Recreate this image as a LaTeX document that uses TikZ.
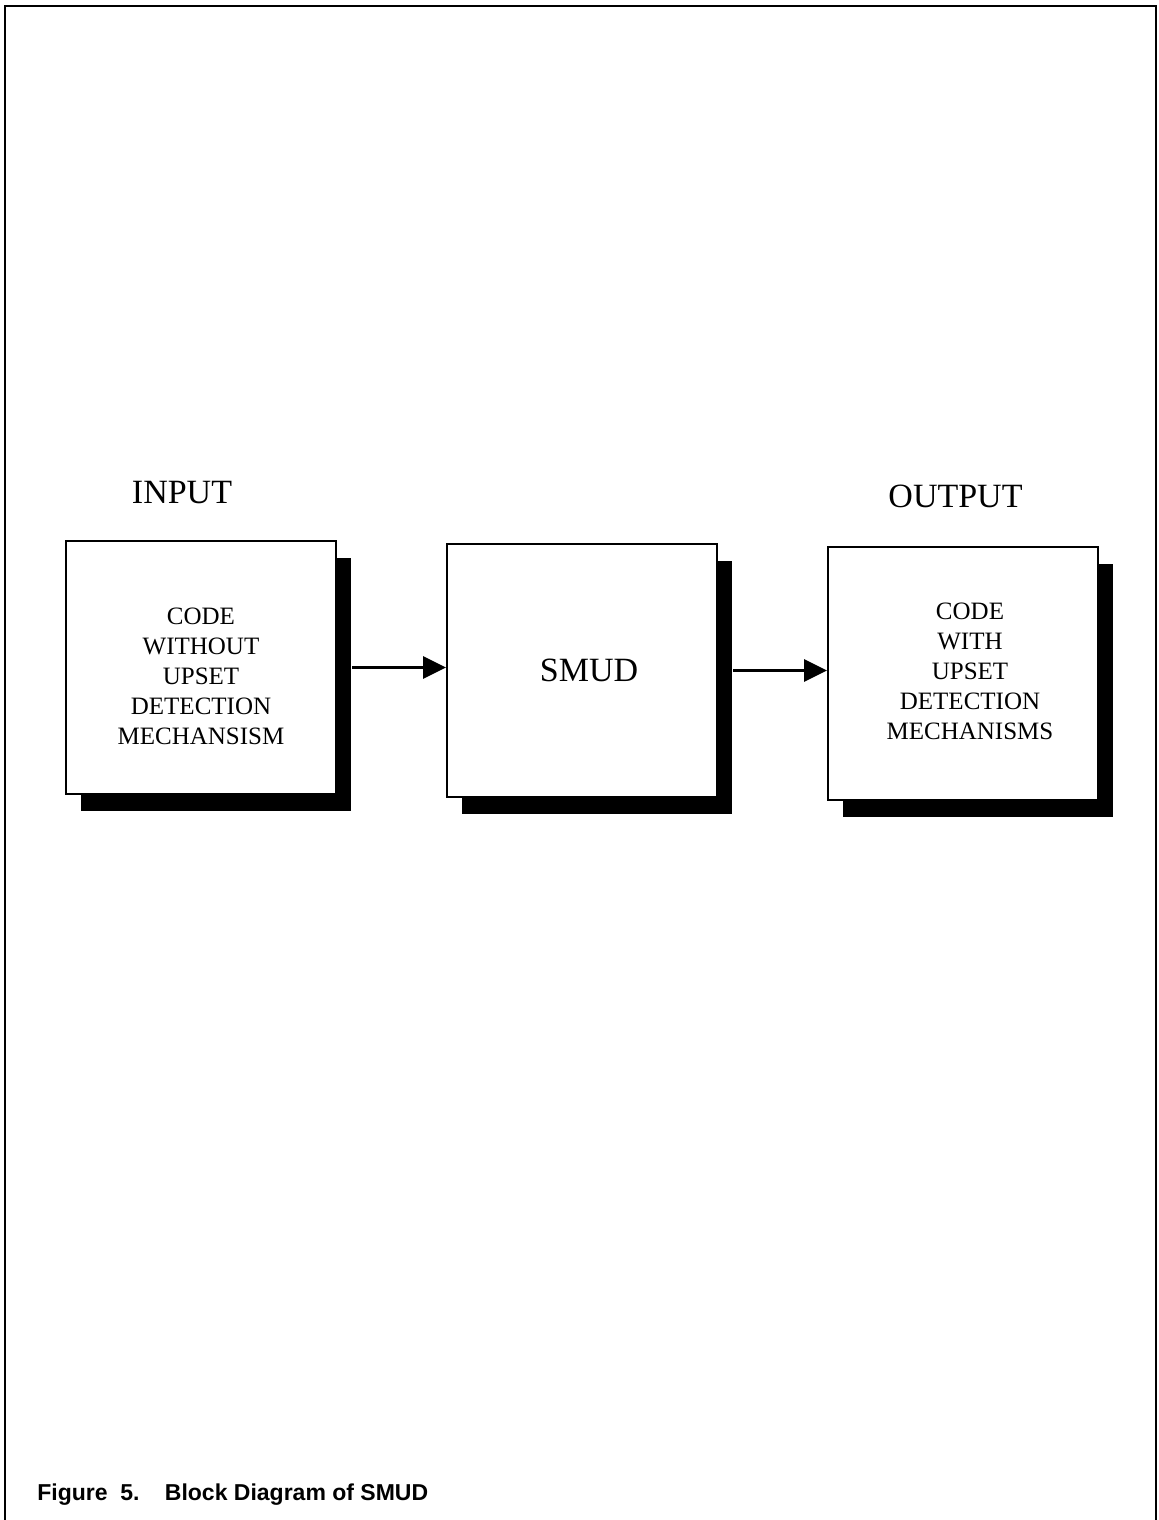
\documentclass[tikz,border=0pt]{standalone}
\usepackage{fontspec}
\setmainfont{Liberation Serif}
\setsansfont{Liberation Sans}
\usepackage{tikz}
\usetikzlibrary{arrows.meta, positioning, shadows}

\begin{document}
\begin{tikzpicture}[x=0.5pt, y=-0.5pt,
  %% --- Node styles ---
  block/.style={
    rectangle, draw=black, fill=white, line width=1pt,
    minimum width=135pt, minimum height=126.5pt,
    align=center, font=\fontsize{12.5}{15}\selectfont,
    drop shadow={shadow xshift=7.5pt, shadow yshift=-8.5pt,
                 fill=black, opacity=1}
  },
  heading/.style={inner sep=0pt, font=\fontsize{17}{20}\selectfont},
  caption/.style={inner sep=0pt, anchor=base west,
    font=\sffamily\bfseries\fontsize{11.5}{14}\selectfont},
  %% --- Arrow style ---
  flow/.style={-{Triangle[length=11.5pt, width=11pt]}, line width=1.5pt},
  frame/.style={line width=1pt}
]
\useasboundingbox (0,0) rectangle (1158,1520);

%% page frame (open at the bottom)
\draw[frame] (5,1520) -- (5,6) -- (1156,6) -- (1156,1520);

%% =========================================================
%% BLOCKS
%% =========================================================
\node (in)   [block] at (201,667.5)
      {\begin{tabular}{@{}c@{}}\rule{0pt}{21pt}CODE\\WITHOUT\\UPSET\\DETECTION\\MECHANSISM\end{tabular}};
\node (smud) [block, right=54.5pt of in, yshift=-1.5pt]
      {\hspace*{7pt}\fontsize{17}{20}\selectfont SMUD};
\node (out)  [block, right=54.5pt of smud, yshift=-1.5pt]
      {\hspace*{7pt}\begin{tabular}{@{}c@{}}CODE\\WITH\\UPSET\\DETECTION\\MECHANISMS\end{tabular}};

%% headings
\node (inLabel)  [heading, above=18pt of in, xshift=-9.5pt]  {INPUT};
\node (outLabel) [heading, above=19pt of out, xshift=-3.75pt] {OUTPUT};

%% =========================================================
%% ARROWS
%% =========================================================
\draw[flow] ([xshift=7.5pt]in.east)   -- (smud.west |- in.east);
\draw[flow] ([xshift=7.5pt]smud.east) -- (out.west |- smud.east);

%% caption
\node (cap) [caption] at (37,1500)
      {Figure\ \ 5.\hspace{1.1em}Block Diagram of SMUD};

\end{tikzpicture}
\end{document}
